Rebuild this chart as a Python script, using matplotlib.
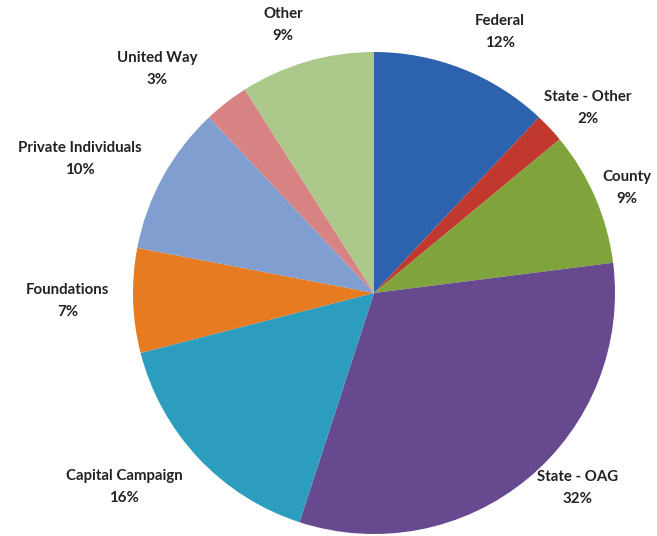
"""
Funding sources pie chart.
"""

import matplotlib.pyplot as plt

labels = ["Federal", "State - Other", "County", "State - OAG", "Capital Campaign",
          "Foundations", "Private Individuals", "United Way", "Other"]
shares = [12, 2, 9, 32, 16, 7, 10, 3, 9]

colors = ["#2D62AE", "#C0382E", "#80A43B", "#67498F", "#2C9CBF",
          "#E67B22", "#809FD0", "#D88383", "#ACC98B"]

# label anchor points, in pie radius units
label_pos = [(0.523, 1.083), (0.888, 0.768), (1.050, 0.436), (0.846, -0.809),
             (-1.037, -0.805), (-1.270, -0.033), (-1.220, 0.556),
             (-0.900, 0.929), (-0.378, 1.112)]


def main():
    fig = plt.figure(figsize=(6.57, 5.36), dpi=100)
    ax = fig.add_axes([0, 0, 1, 1])

    ax.pie(shares, colors=colors, startangle=90, counterclock=False,
           radius=1, center=(0, 0), wedgeprops={"linewidth": 0})

    r_px = 241.0
    ax.set_xlim(-374 / r_px, (657 - 374) / r_px)
    ax.set_ylim(-(536 - 293) / r_px, 293 / r_px)
    ax.set_aspect("equal")
    ax.axis("off")

    for name, val, (x, y) in zip(labels, shares, label_pos):
        ax.text(x, y, f"{name}\n{val}%", ha="center", va="center",
                fontsize=10.8, fontweight="bold", family=["Lato", "DejaVu Sans"],
                color="#222222", linespacing=1.7)

    fig.savefig("out.png", dpi=100)
    plt.close(fig)


if __name__ == "__main__":
    main()
